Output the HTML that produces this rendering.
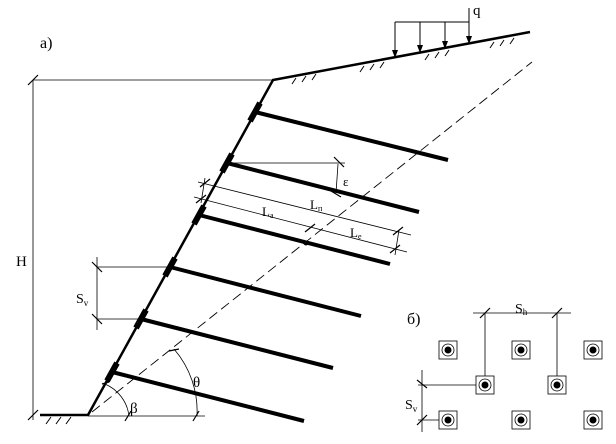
<!DOCTYPE html>
<html><head><meta charset="utf-8"><style>body{margin:0;background:#fff}svg{display:block}text{font-family:"Liberation Serif",serif;fill:#000}</style></head>
<body>
<svg width="616" height="444" viewBox="0 0 616 444" xmlns="http://www.w3.org/2000/svg">
<g stroke="#000" fill="none">
<!-- ground -->
<path d="M40 415 H88 L273 80 L530 32" stroke-width="2.5"/>
<g stroke-width="1">
<path d="M46 424l5-7M56 424l5-7M66 424l5-7"/>
<path d="M292 84l4-6M302 82l4-6M312 80l4-6M360 72l4-6M370 70l4-6M380 68l4-6M425 60l4-6M435 58l4-6M445 56l4-6M490 48l4-6M500 46l4-6M510 44l4-6"/>
</g>
<!-- q -->
<path d="M395 22H469V8M395 22V57M420 22V52M445 22V48M469 22V43" stroke-width="1"/>
<g fill="#000" stroke="none"><path d="M392 50l3 8 3-8z M417 45l3 8 3-8z M442 41l3 8 3-8z M466 36l3 8 3-8z"/></g>
<!-- H -->
<path d="M33 80H273M33 80V420" stroke-width="0.8"/>
<path d="M28 85l10-10M28 420l10-10" stroke-width="1.2"/>
<!-- dashed -->
<path d="M92 412L532 62" stroke-width="0.9" stroke-dasharray="10,5"/>
<!-- nails -->
<g stroke-width="4">
<path d="M255 112L448 160M227 163L419 212M199 215L390 264M170 267L361 316M141 319L333 368M112 372L304 421"/>
</g>
<g stroke-width="6">
<path d="M250 121L260 103M222 172L232 154M194 224L204 206M165 276L175 258M136 328L146 310M107 381L117 363"/>
</g>
<!-- epsilon -->
<path d="M227 163H345M338 164L336 193" stroke-width="0.8"/>
<path d="M334 157l10 10M331 191l10 6" stroke-width="1.2"/>
<!-- L lines -->
<path d="M198 182L411 235M194 197L407 252M205 178L201 203M399 230L395 255" stroke-width="0.8"/>
<path d="M200 187l10-8M196 203l10-8M393 235l10-8M390 253l10-8M305 232l10-8" stroke-width="1.2"/>
<circle cx="306" cy="243" r="2.5" fill="#000" stroke="none"/>
<!-- Sv left -->
<path d="M97 267H170M97 319H141M97 257V330" stroke-width="0.8"/>
<path d="M92 262l10 10M92 314l10 10" stroke-width="1.2"/>
<!-- angles -->
<path d="M88 416H205" stroke-width="0.8"/>
<path d="M174 349A95 95 0 0 1 197 416" stroke-width="0.8"/>
<path d="M105 384A40 40 0 0 1 129 416" stroke-width="0.8"/>
<path d="M169 351l10-2M193 421l6-10M125 421l6-10M102 384l7-2" stroke-width="1.2"/>
<!-- panel b -->
<path d="M473 313H571M485 313V376M557 313V376M422 370V432M418 385H476M418 420H439" stroke-width="0.8"/>
<path d="M480 318l10-10M552 318l10-10M417 380l10 8M417 425l10-10" stroke-width="1.2"/>
<g stroke-width="0.8">
<rect x="439" y="341" width="18" height="18"/><rect x="512" y="341" width="18" height="18"/><rect x="584" y="341" width="18" height="18"/>
<rect x="476" y="376" width="18" height="18"/><rect x="548" y="376" width="18" height="18"/>
<rect x="439" y="411" width="18" height="18"/><rect x="512" y="411" width="18" height="18"/><rect x="584" y="411" width="18" height="18"/>
<circle cx="448" cy="350" r="6"/><circle cx="521" cy="350" r="6"/><circle cx="593" cy="350" r="6"/>
<circle cx="485" cy="385" r="6"/><circle cx="557" cy="385" r="6"/>
<circle cx="448" cy="420" r="6"/><circle cx="521" cy="420" r="6"/><circle cx="593" cy="420" r="6"/>
</g>
<g fill="#000" stroke="none">
<circle cx="448" cy="350" r="3.5"/><circle cx="521" cy="350" r="3.5"/><circle cx="593" cy="350" r="3.5"/>
<circle cx="485" cy="385" r="3.5"/><circle cx="557" cy="385" r="3.5"/>
<circle cx="448" cy="420" r="3.5"/><circle cx="521" cy="420" r="3.5"/><circle cx="593" cy="420" r="3.5"/>
</g>
</g>
<text x="40" y="48" font-size="16">а)</text>
<text x="473" y="15" font-size="15">q</text>
<text x="16" y="266" font-size="15">H</text>
<text x="76" y="303" font-size="14">S<tspan font-size="9" dy="3">v</tspan></text>
<text x="343" y="186" font-size="13">ε</text>
<text x="262" y="216" font-size="13">L<tspan font-size="8" dy="2">a</tspan></text>
<text x="310" y="209" font-size="13">L<tspan font-size="8" dy="2">п</tspan></text>
<text x="350" y="237" font-size="13">L<tspan font-size="8" dy="2">e</tspan></text>
<text x="193" y="387" font-size="15">θ</text>
<text x="130" y="413" font-size="15">β</text>
<text x="407" y="324" font-size="16">б)</text>
<text x="515" y="313" font-size="14">S<tspan font-size="9" dy="2">h</tspan></text>
<text x="405" y="409" font-size="14">S<tspan font-size="9" dy="3">v</tspan></text>
</svg>
</body></html>
